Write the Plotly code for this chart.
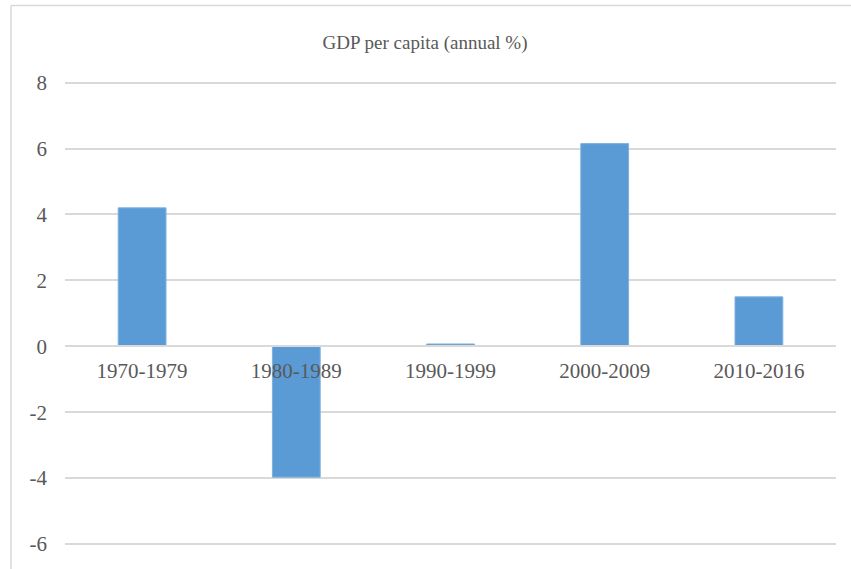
import plotly.graph_objects as go

categories = ["1970-1979", "1980-1989", "1990-1999", "2000-2009", "2010-2016"]
values = [4.2, -3.97, 0.07, 6.15, 1.5]
title_text = "GDP per capita (annual %)"
y_ticks = [-6, -4, -2, 0, 2, 4, 6, 8]
y_tick_labels = ["-6", "-4", "-2", "0", "2", "4", "6", "8"]

W, H = 851, 569
ML, MR, MT, MB = 65, 15, 80, 22
y_range = [-6.09, 8.08]

fig = go.Figure()
fig.add_trace(go.Bar(
    x=categories, y=values,
    marker=dict(color="#5b9bd5", line=dict(color="#7eb0de", width=1)),
    width=0.31,
))

plot_w = W - ML - MR
plot_h = H - MT - MB
zero_pos = (0 - y_range[0]) / (y_range[1] - y_range[0])

grid = "#d9d9d9"
font_fam = "Liberation Serif, Times New Roman, serif"

fig.update_layout(
    width=W, height=H,
    margin=dict(l=ML, r=MR, t=MT, b=MB),
    paper_bgcolor="white", plot_bgcolor="white",
    showlegend=False,
    font=dict(family=font_fam, color="#595959"),
    title=dict(text=title_text, x=(425 - ML) / plot_w, xref="paper", xanchor="center",
               y=1 - 42 / H, yanchor="middle", font=dict(size=19, color="#595959")),
    xaxis=dict(
        type="category", anchor="free", position=zero_pos,
        showgrid=False, showline=True, linecolor=grid, linewidth=1.5,
        ticks="", tickfont=dict(size=21, color="#595959"),
        ticklabelstandoff=6,
    ),
    yaxis=dict(
        range=y_range, tickvals=y_ticks, ticktext=y_tick_labels,
        showgrid=True, gridcolor=grid, gridwidth=1.5,
        zeroline=False, showline=False, ticks="",
        tickfont=dict(size=21, color="#595959"), ticklabelstandoff=17,
    ),
    shapes=[
        dict(type="line", xref="paper", yref="paper",
             x0=(11 - ML) / plot_w, x1=1.2, y0=1 + (MT - 5.5) / plot_h, y1=1 + (MT - 5.5) / plot_h,
             line=dict(color=grid, width=1.5)),
        dict(type="line", xref="paper", yref="paper",
             x0=(11 - ML) / plot_w, x1=(11 - ML) / plot_w, y0=-0.2, y1=1 + (MT - 5.5) / plot_h,
             line=dict(color=grid, width=1.5)),
    ],
)

fig.write_html("out.html")
